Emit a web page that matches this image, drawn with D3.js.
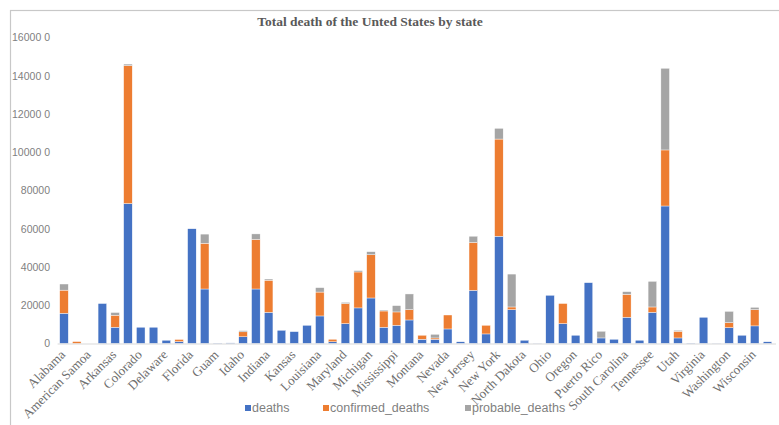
<!DOCTYPE html>
<html><head><meta charset="utf-8">
<script src="https://cdn.jsdelivr.net/npm/d3@7"></script>
<style>body{margin:0;background:#fff}svg{display:block}</style>
</head><body>
<svg id="c" width="779" height="425"></svg>
<script>
const states = ["Alabama","Alaska","American Samoa","Arizona","Arkansas","California","Colorado","Connecticut","Delaware","District of Columbia","Florida","Georgia","Guam","Hawaii","Idaho","Illinois","Indiana","Iowa","Kansas","Kentucky","Louisiana","Maine","Maryland","Massachusetts","Michigan","Minnesota","Mississippi","Missouri","Montana","Nebraska","Nevada","New Hampshire","New Jersey","New Mexico","New York","North Carolina","North Dakota","Northern Mariana Islands","Ohio","Oklahoma","Oregon","Pennsylvania","Puerto Rico","Rhode Island","South Carolina","South Dakota","Tennessee","Texas","Utah","Vermont","Virginia","Virgin Islands","Washington","West Virginia","Wisconsin","Wyoming"];
const deaths = [15800,0,0,20900,8500,73200,8500,8500,1700,1000,60000,28500,200,300,3500,28500,16300,6900,6200,9500,14400,900,10400,18600,23800,8500,9500,12300,2200,2200,7600,900,27800,5000,56100,17700,1700,100,25200,10400,4300,31800,2900,2200,13700,1700,16300,71900,2900,200,13700,100,8300,4300,9200,900];
const confirmed = [12100,1000,0,0,6300,72100,0,0,0,1100,0,23900,0,0,2600,25900,16800,0,0,0,12500,1300,10500,18800,22600,8500,7000,5400,2100,700,7300,0,25000,4500,50800,1400,0,0,0,10500,0,0,0,0,12000,0,2800,29300,3500,0,0,0,2600,0,8500,0];
const probable = [3200,0,0,0,1400,800,0,0,0,0,0,4800,0,0,600,2900,600,0,0,0,2300,0,600,700,1600,500,3300,8200,0,1900,0,0,3300,0,5600,17200,0,0,0,0,0,0,3500,0,1400,0,13400,42700,500,0,0,0,5900,0,1200,0];
const seriesKeys = ["deaths","confirmed_deaths","probable_deaths"];
const seriesColors = ["#4472C4","#ED7D31","#A5A5A5"];
const yTicks = [0,20000,40000,60000,80000,100000,120000,140000,160000];
const yTickLabels = ["0","20000","40000","60000","80000","10000 0","12000 0","14000 0","16000 0"];
const title = "Total death of the Unted States by state";

const svg = d3.select("#c");
// chart border
svg.append("rect").attr("x",10.5).attr("y",10.5).attr("width",800).attr("height",500)
  .attr("fill","none").attr("stroke","#c8c8c8").attr("stroke-width",1.2);

const rows = states.map((s,i)=>({state:s, deaths:deaths[i], confirmed_deaths:confirmed[i], probable_deaths:probable[i]}));
const stack = d3.stack().keys(seriesKeys)(rows);

const x = d3.scaleBand().domain(states).range([57.6,773.9]).paddingInner(0.33).paddingOuter(0.165);
const y = d3.scaleLinear().domain([0,160000]).range([343.5,37.5]);

svg.append("text").attr("x",370).attr("y",26).attr("text-anchor","middle")
  .attr("font-family","Liberation Serif, serif").attr("font-weight","bold").attr("font-size",13.5)
  .attr("fill","#595959").text(title);

const g = svg.append("g");
stack.forEach((layer,li)=>{
  g.selectAll(null).data(layer).enter().append("rect")
    .attr("x",d=>x(d.data.state))
    .attr("width",x.bandwidth())
    .attr("y",d=>y(d[1]))
    .attr("height",d=>Math.max(0,y(d[0])-y(d[1])))
    .attr("fill",seriesColors[li])
    .attr("stroke","#fff").attr("stroke-width",0.4);
});

// y axis labels
const yAxis = d3.axisLeft(y).tickValues(yTicks).tickFormat((d,i)=>yTickLabels[i]).tickSize(0).tickPadding(0);
const ya = svg.append("g").attr("transform","translate(50,0)").call(yAxis);
ya.select(".domain").remove();
ya.selectAll("text").attr("font-family","Liberation Sans, Arial, sans-serif").attr("font-size",10.5).attr("fill","#7f7f7f");

// x axis
const xAxis = d3.axisBottom(x).tickValues(states.filter((d,i)=>i%2===0)).tickSize(0).tickPadding(0);
const xa = svg.append("g").attr("transform","translate(0,343.5)").call(xAxis);
xa.select(".domain").attr("stroke","#d9d9d9").attr("stroke-width",1.2).attr("d","M57.6,0.5H776");
xa.selectAll("text").attr("font-family","Liberation Serif, Times New Roman, serif").attr("font-size",13)
  .attr("fill","#6e6e6e").attr("text-anchor","end").attr("dy",0)
  .attr("transform","translate(2,12) rotate(-45)");

// legend
const lx = [245,323,465];
const lg = svg.append("g");
seriesKeys.forEach((k,i)=>{
  lg.append("rect").attr("x",lx[i]).attr("y",405).attr("width",6).attr("height",6).attr("fill",seriesColors[i]);
  lg.append("text").attr("x",lx[i]+7).attr("y",412).attr("font-family","Liberation Sans, Arial, sans-serif")
    .attr("font-size",12.5).attr("fill","#7f7f7f").text(k);
});
</script>
</body></html>
